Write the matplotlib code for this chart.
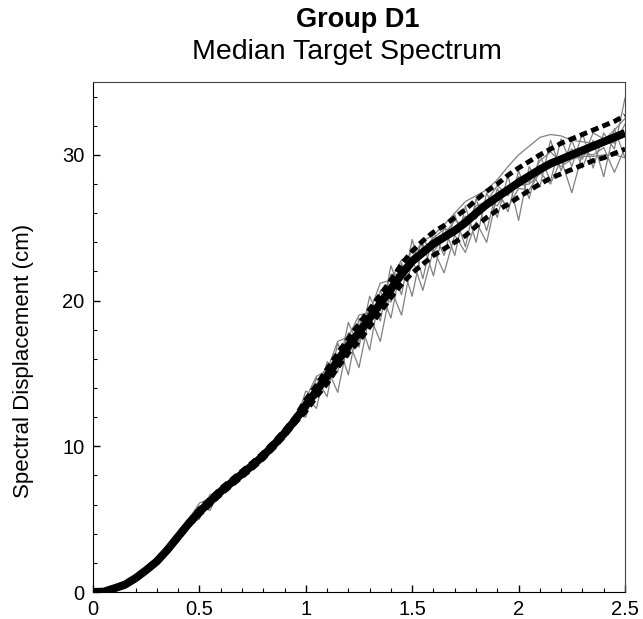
import matplotlib
matplotlib.use("Agg")
import matplotlib.pyplot as plt
from matplotlib.ticker import MultipleLocator
import numpy as np

plt.rcParams["font.family"] = ["Liberation Sans", "DejaVu Sans"]

# period grid (s)
periods = np.round(np.arange(0, 51) * 0.05, 2)

# median target spectrum (cm)
median_sd = [0.00, 0.02, 0.25, 0.50, 0.95, 1.50, 2.10, 2.90, 3.80, 4.70,
             5.50, 6.20, 6.90, 7.50, 8.10, 8.70, 9.35, 10.10, 10.90, 11.80,
             12.80, 13.80, 14.80, 15.90, 16.90, 17.80, 18.80, 19.80, 20.80, 21.80,
             22.70, 23.30, 23.90, 24.35, 24.80, 25.35, 26.00, 26.60, 27.10, 27.60,
             28.10, 28.55, 29.00, 29.40, 29.70, 30.00, 30.30, 30.60, 30.90, 31.20,
             31.50]

upper_sd = [0.00, 0.05, 0.30, 0.60, 1.05, 1.60, 2.20, 3.00, 3.95, 4.85,
            5.70, 6.40, 7.10, 7.70, 8.30, 8.90, 9.55, 10.30, 11.10, 12.00,
            13.20, 14.20, 15.30, 16.40, 17.40, 18.40, 19.40, 20.40, 21.40, 22.50,
            23.40, 24.10, 24.70, 25.15, 25.70, 26.25, 26.90, 27.50, 28.00, 28.60,
            29.10, 29.55, 30.00, 30.40, 30.80, 31.10, 31.40, 31.70, 32.00, 32.30,
            32.70]

lower_sd = [0.00, 0.00, 0.20, 0.40, 0.85, 1.40, 2.00, 2.80, 3.65, 4.55,
            5.30, 6.00, 6.70, 7.30, 7.90, 8.50, 9.15, 9.90, 10.70, 11.60,
            12.40, 13.40, 14.30, 15.40, 16.40, 17.20, 18.20, 19.20, 20.20, 21.10,
            21.90, 22.50, 23.10, 23.55, 24.00, 24.45, 25.10, 25.70, 26.20, 26.60,
            27.10, 27.55, 28.00, 28.40, 28.70, 29.00, 29.30, 29.60, 29.80, 30.10,
            30.40]

# individual scaled records (cm)
rec1 = [0.00, 0.02, 0.25, 0.50, 0.95, 1.50, 2.10, 2.90, 3.80, 4.7,
        5.9, 5.6, 7.2, 7.3, 8.3, 8.5, 9.6, 9.8, 11.2, 11.4,
        13.4, 12.6, 15.8, 15.1, 18.5, 16.8, 20.3, 18.6, 22.4, 20.4,
        24.2, 21.5, 24.7, 23.1, 25.9, 23.7, 27.0, 24.8, 27.7, 26.1,
        28.9, 27.0, 30.0, 28.2, 31.1, 29.2, 31.5, 29.1, 31.5, 30.4,
        33.9]
rec2 = [0.00, 0.02, 0.25, 0.50, 0.95, 1.50, 2.10, 2.90, 3.80, 4.7,
        5.0, 6.7, 6.6, 7.7, 7.9, 9.0, 9.1, 10.3, 10.6, 12.2,
        12.0, 14.7, 13.4, 17.1, 14.9, 18.8, 16.6, 20.7, 18.8, 22.6,
        20.3, 23.9, 21.7, 25.1, 23.1, 26.5, 24.0, 27.4, 25.7, 28.6,
        25.5, 29.2, 27.8, 31.0, 28.9, 31.0, 29.1, 31.0, 28.5, 31.8,
        29.8]
rec3 = [0.00, 0.02, 0.25, 0.50, 0.95, 1.50, 2.10, 2.90, 3.80, 5.0,
        6.1, 6.4, 6.9, 7.6, 8.1, 8.6, 9.4, 10.3, 10.9, 12.1,
        13.3, 14.8, 15.2, 17.2, 17.5, 19.0, 19.2, 21.2, 21.4, 22.8,
        23.0, 24.1, 24.5, 25.2, 26.0, 26.8, 27.2, 27.6, 28.3, 29.2,
        30.0, 30.6, 31.2, 31.4, 31.3, 31.0, 30.9, 30.8, 31.0, 31.7,
        32.5]
rec4 = [0.00, 0.02, 0.25, 0.50, 0.95, 1.50, 2.10, 2.90, 3.80, 4.4,
        5.5, 6.6, 6.5, 7.5, 8.3, 8.7, 9.2, 10.1, 11.3, 11.5,
        13.8, 13.3, 15.4, 13.7, 17.3, 15.4, 19.0, 17.2, 20.8, 19.0,
        22.9, 20.7, 23.5, 21.9, 24.5, 23.3, 25.4, 24.0, 27.3, 26.4,
        27.7, 27.6, 28.8, 28.0, 29.7, 27.4, 30.1, 30.0, 30.5, 28.8,
        30.5]
rec5 = [0.00, 0.02, 0.25, 0.50, 0.95, 1.50, 2.10, 2.90, 3.80, 4.9,
        5.2, 6.2, 7.2, 7.4, 8.1, 8.8, 9.5, 9.9, 10.9, 11.8,
        12.8, 14.3, 14.2, 16.2, 16.1, 18.4, 18.3, 20.2, 19.9, 22.4,
        22.3, 24.2, 23.3, 24.5, 25.5, 25.1, 26.5, 26.8, 27.9, 27.2,
        28.5, 28.1, 29.6, 30.2, 29.5, 30.4, 29.7, 31.5, 31.1, 30.8,
        32.1]
rec6 = [0.00, 0.02, 0.25, 0.50, 0.95, 1.50, 2.10, 2.90, 3.80, 4.7,
        5.7, 6.0, 6.9, 7.7, 8.0, 8.7, 9.3, 10.2, 10.7, 11.8,
        12.4, 14.0, 15.6, 15.5, 17.8, 17.2, 19.6, 19.3, 21.8, 21.8,
        23.5, 23.5, 24.3, 24.9, 24.9, 25.8, 25.6, 26.9, 26.5, 27.8,
        27.9, 28.0, 28.7, 29.6, 29.2, 29.7, 29.9, 29.9, 30.0, 30.0,
        29.8]
records = [rec1, rec2, rec3, rec4, rec5, rec6]

fig = plt.figure(figsize=(6.43, 6.19), dpi=100)
ax = fig.add_axes([0.1446, 0.0436, 0.8274, 0.8239])

for rec in records:
    ax.plot(periods, rec, color="#808080", lw=0.9, zorder=2)

ax.plot(periods, median_sd, color="black", lw=5.8, solid_capstyle="butt",
        solid_joinstyle="round", zorder=3)
for env in (upper_sd, lower_sd):
    ax.plot(periods, env, color="black", lw=3.5, linestyle=(0, (1.6, 0.9)), zorder=4)

ax.set_xlim(0, 2.5)
ax.set_ylim(0, 35)
ax.xaxis.set_major_locator(MultipleLocator(0.5))
ax.xaxis.set_minor_locator(MultipleLocator(0.1))
ax.yaxis.set_major_locator(MultipleLocator(10))
ax.yaxis.set_minor_locator(MultipleLocator(2))
ax.xaxis.set_major_formatter(plt.FuncFormatter(lambda v, p: f"{v:g}"))
ax.tick_params(which="both", direction="in", top=False, right=False, labelsize=14.5)
ax.tick_params(which="major", length=5, width=1, pad=6)
ax.tick_params(which="minor", length=3, width=0.8)
for side in ("left", "bottom"):
    ax.spines[side].set_color("black")
for side in ("top", "right"):
    ax.spines[side].set_color("#444444")
    ax.spines[side].set_linewidth(0.8)

ax.set_ylabel("Spectral Displacement (cm)", fontsize=16)
ax.yaxis.set_label_coords(-0.11, 0.453)

fig.text(0.556, 0.967, "Group D1", ha="center", va="center", fontsize=19.5, fontweight="bold")
fig.text(0.540, 0.916, "Median Target Spectrum", ha="center", va="center", fontsize=20.5)

fig.savefig("out.png", dpi=100)
